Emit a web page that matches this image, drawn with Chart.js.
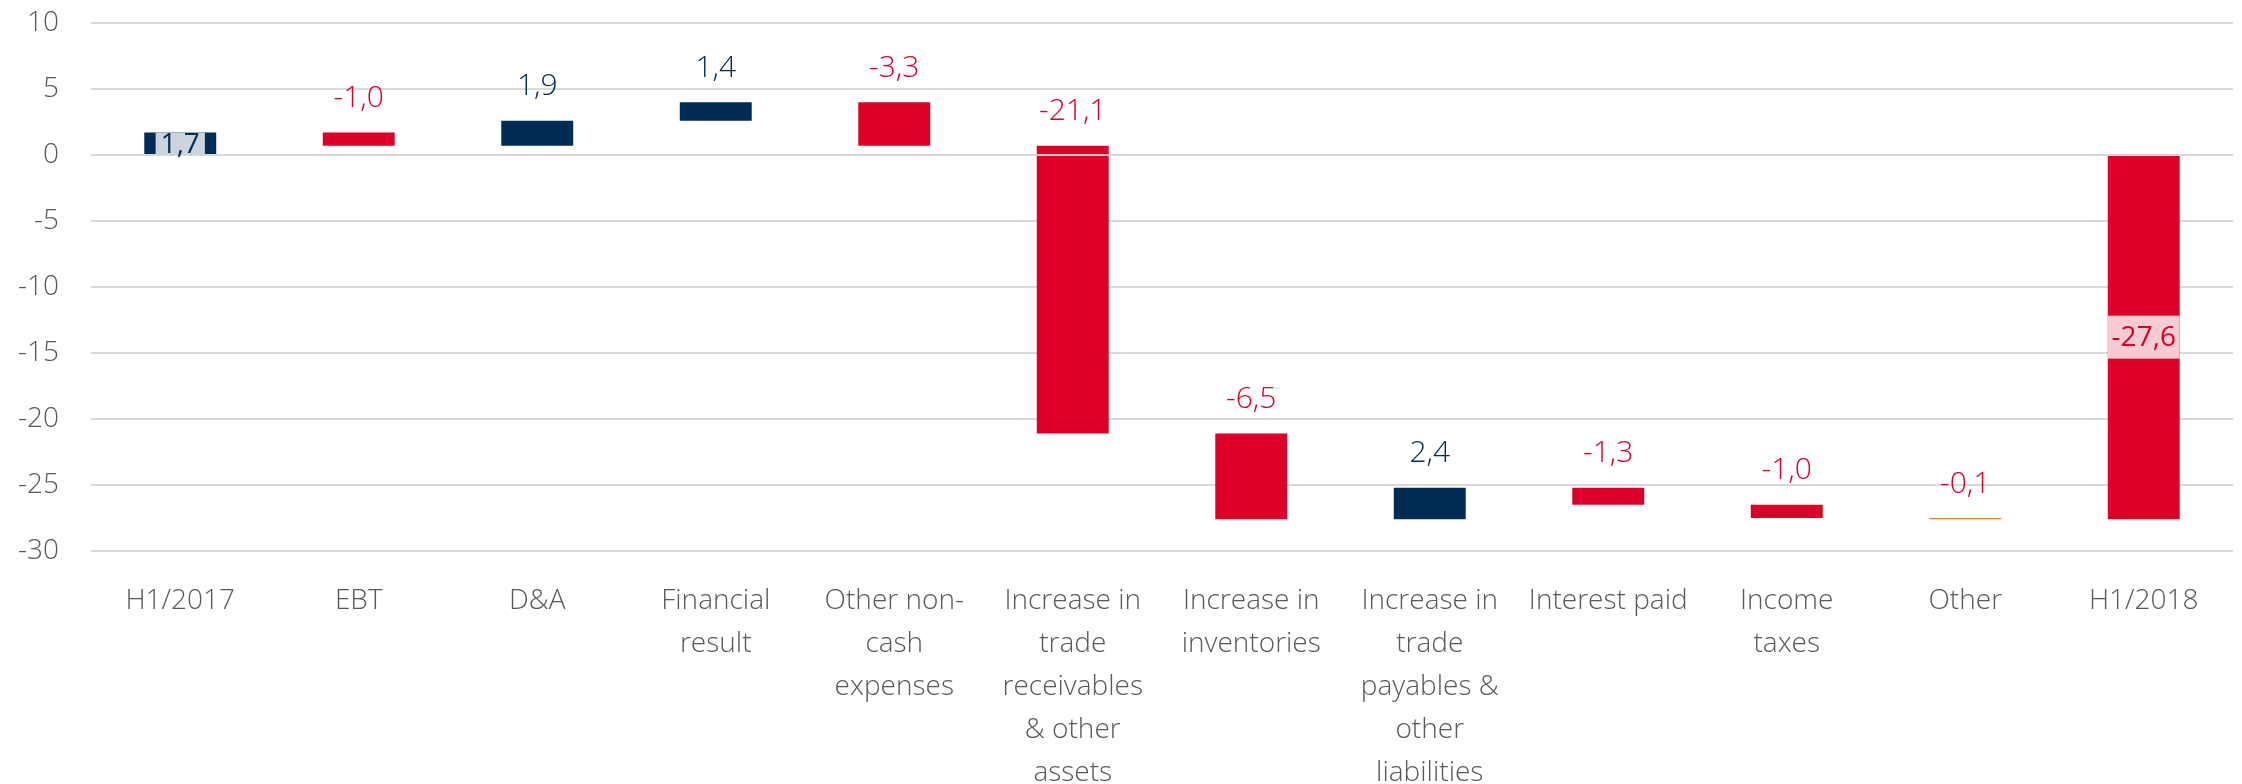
<!DOCTYPE html>
<html>
<head>
<meta charset="utf-8">
<script src="https://cdn.jsdelivr.net/npm/chart.js@4.4.1/dist/chart.umd.min.js"></script>
<style>
  html, body { margin: 0; padding: 0; background: #fff; }
  canvas { display: block; }
</style>
</head>
<body>
<canvas id="cashflow" width="2242" height="784"></canvas>
<script>
// Operating cash flow bridge, H1/2017 -> H1/2018 (EUR m)
const categories = [
  ['H1/2017'],
  ['EBT'],
  ['D&A'],
  ['Financial', 'result'],
  ['Other non-', 'cash', 'expenses'],
  ['Increase in', 'trade', 'receivables', '& other', 'assets'],
  ['Increase in', 'inventories'],
  ['Increase in', 'trade', 'payables &', 'other', 'liabilities'],
  ['Interest paid'],
  ['Income', 'taxes'],
  ['Other'],
  ['H1/2018']
];
const openingBalance = 1.7;
const changes = [-1.0, 1.9, 1.4, -3.3, -21.1, -6.5, 2.4, -1.3, -1.0, -0.1];
const closingBalance = -27.6;
const yMin = -30;
const yMax = 10;
const yStep = 5;

const NAVY = '#002b54';
const RED = '#dc0028';
const ORANGE = '#ed7d31';
const GRID = '#d9d9d9';
const TEXT = '#595959';
const FONT = "'Open Sans', 'Segoe UI', sans-serif";

// floating ranges for each column of the bridge
const ranges = [[0, openingBalance]];
const values = [openingBalance];
let level = openingBalance;
changes.forEach(d => {
  // a step that crosses zero is stacked as a positive part plus a negative part
  const next = (level > 0 && level + d < 0) ? d : level + d;
  ranges.push([level, next]);
  values.push(d);
  level = next;
});
ranges.push([0, closingBalance]);
values.push(closingBalance);

const lastIdx = values.length - 1;
const colors = values.map(v => (v >= 0 ? NAVY : RED));
colors[lastIdx - 1] = ORANGE;

const fmt = v => v.toFixed(1).replace('.', ',');

const valueLabels = {
  id: 'valueLabels',
  afterDatasetsDraw(chart) {
    const { ctx, scales: { y } } = chart;
    const meta = chart.getDatasetMeta(0);
    ctx.save();
    ctx.textAlign = 'center';
    ctx.textBaseline = 'middle';
    meta.data.forEach((bar, i) => {
      const v = values[i];
      const txt = fmt(v);
      const [a, b] = ranges[i];
      const top = Math.min(y.getPixelForValue(a), y.getPixelForValue(b));
      const bottom = Math.max(y.getPixelForValue(a), y.getPixelForValue(b));
      const left = bar.x - bar.width / 2;
      const isTotal = i === 0 || i === lastIdx;

      // zero line showing through a stacked column
      if (!isTotal && Math.min(a, b) < 0 && Math.max(a, b) > 0) {
        const zy = y.getPixelForValue(0);
        ctx.strokeStyle = '#f3c4cb';
        ctx.lineWidth = 2;
        ctx.beginPath();
        ctx.moveTo(left, zy);
        ctx.lineTo(left + bar.width, zy);
        ctx.stroke();
      }

      if (isTotal) {
        ctx.font = `400 28px ${FONT}`;
        const cy = (top + bottom) / 2;
        const w = Math.min(ctx.measureText(txt).width + 10, bar.width);
        const h = Math.min(43, bottom - top);
        ctx.fillStyle = v >= 0 ? '#cbd3dc' : '#f7cbd2';
        ctx.fillRect(bar.x - w / 2, cy - h / 2, w, h);
        ctx.fillStyle = v >= 0 ? NAVY : RED;
        ctx.fillText(txt, bar.x, cy + 1);
      } else {
        ctx.font = `300 30px ${FONT}`;
        ctx.fillStyle = v >= 0 ? NAVY : RED;
        ctx.fillText(txt, bar.x, top - 34);
      }
    });
    ctx.restore();
  }
};

new Chart(document.getElementById('cashflow'), {
  type: 'bar',
  data: {
    labels: categories,
    datasets: [{
      data: ranges,
      backgroundColor: colors,
      borderWidth: 0,
      barPercentage: 1,
      categoryPercentage: 0.403
    }]
  },
  options: {
    responsive: false,
    devicePixelRatio: 1,
    animation: false,
    layout: { padding: { top: 23, right: 9, left: 0, bottom: 0 } },
    plugins: {
      legend: { display: false },
      tooltip: { enabled: false }
    },
    scales: {
      x: {
        grid: { display: false, drawTicks: false },
        border: { display: false },
        ticks: {
          color: TEXT,
          font: { family: FONT, size: 28, weight: 300, lineHeight: 1.54 },
          padding: 28,
          maxRotation: 0,
          autoSkip: false
        },
        afterFit(scale) { scale.height = 233; }
      },
      y: {
        min: yMin,
        max: yMax,
        grid: { color: GRID, lineWidth: 2, drawTicks: false },
        border: { display: false },
        ticks: {
          stepSize: yStep,
          color: TEXT,
          font: { family: FONT, size: 28, weight: 300 },
          padding: 32
        },
        afterFit(scale) {
          scale.width = 91;
          // keep the tick padding from pushing the plot area down
          scale.paddingTop = 0;
          scale.paddingBottom = 0;
        }
      }
    }
  },
  plugins: [valueLabels]
});
</script>
</body>
</html>
